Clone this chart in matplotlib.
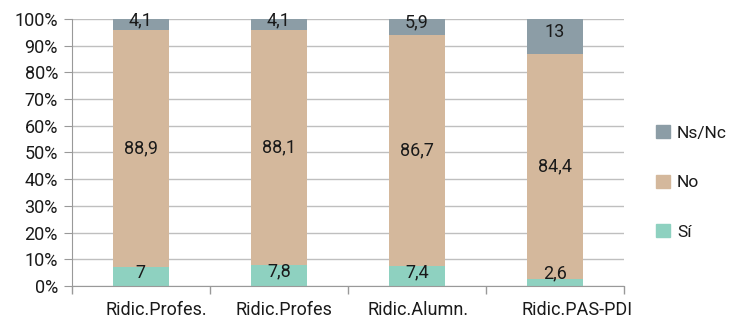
import numpy as np
import matplotlib
matplotlib.use("Agg")
import matplotlib.pyplot as plt
import matplotlib.transforms as mtrans
from matplotlib.patches import Patch

categories = ["Ridic.Profes.", "Ridic.Profes", "Ridic.Alumn.", "Ridic.PAS-PDI"]
si = [7, 7.8, 7.4, 2.6]
no = [88.9, 88.1, 86.7, 84.4]
nsnc = [4.1, 4.1, 5.9, 13]
si_lbl = ["7", "7,8", "7,4", "2,6"]
no_lbl = ["88,9", "88,1", "86,7", "84,4"]
nsnc_lbl = ["4,1", "4,1", "5,9", "13"]

c_si = "#8ED1C0"
c_no = "#D4B89C"
c_ns = "#8C9DA6"

plt.rcParams["font.family"] = ["Roboto", "DejaVu Sans"]
plt.rcParams["font.size"] = 13
plt.rcParams["text.color"] = "#1a1a1a"
plt.rcParams["xtick.color"] = "#1a1a1a"
plt.rcParams["ytick.color"] = "#1a1a1a"

fig = plt.figure(figsize=(7.33, 3.2), dpi=100)
ax = fig.add_axes([0.098, 0.106, 0.753, 0.835])

x = np.arange(len(categories))
w = 0.41
ax.bar(x, si, w, color=c_si, zorder=2)
ax.bar(x, no, w, bottom=si, color=c_no, zorder=2)
bot2 = np.array(si) + np.array(no)
ax.bar(x, nsnc, w, bottom=bot2, color=c_ns, zorder=2)

txt = dict(ha="center", va="center", fontsize=13, zorder=3)
for i in range(len(x)):
    ax.text(x[i], max(si[i] / 2, 3.3) + 1.5, si_lbl[i], **txt)
    ax.text(x[i], si[i] + no[i] / 2, no_lbl[i], **txt)
    ax.text(x[i], bot2[i] + nsnc[i] / 2 + 1.5, nsnc_lbl[i], **txt)

ax.set_xlim(-0.5, len(categories) - 0.5)
ax.set_ylim(0, 100)
ax.set_yticks(np.arange(0, 101, 10))
ax.set_yticklabels([f"{v}%" for v in range(0, 101, 10)])
ax.set_xticks(x)
ax.set_xticklabels(categories)
ax.set_xticks(np.arange(-0.5, len(categories), 1), minor=True)
ax.tick_params(axis="x", which="major", length=0, pad=11)
ax.tick_params(axis="x", which="minor", length=6, color="#999999", width=1)
ax.tick_params(axis="y", length=6, color="#999999", pad=4)

# x labels sit slightly right of the bar centres in the original
shifts = [15, 5, 1, 22]
for lab, dx in zip(ax.get_xticklabels(), shifts):
    lab.set_transform(lab.get_transform() +
                      mtrans.ScaledTranslation(dx / 100, 0, fig.dpi_scale_trans))

ax.yaxis.grid(True, color="#BFBFBF", linewidth=1, zorder=0)
ax.set_axisbelow(True)
for s in ["top", "right"]:
    ax.spines[s].set_visible(False)
ax.spines["left"].set_color("#999999")
ax.spines["bottom"].set_color("#999999")

handles = [Patch(color=c_ns, label="Ns/Nc"), Patch(color=c_no, label="No"),
           Patch(color=c_si, label="Sí")]
fig.legend(handles=handles, loc="center left", bbox_to_anchor=(0.874, 0.43),
           frameon=False, handlelength=0.8, handleheight=0.8, handletextpad=0.4,
           labelspacing=1.95, prop={"size": 12.5})

fig.savefig("out.png", dpi=100)
